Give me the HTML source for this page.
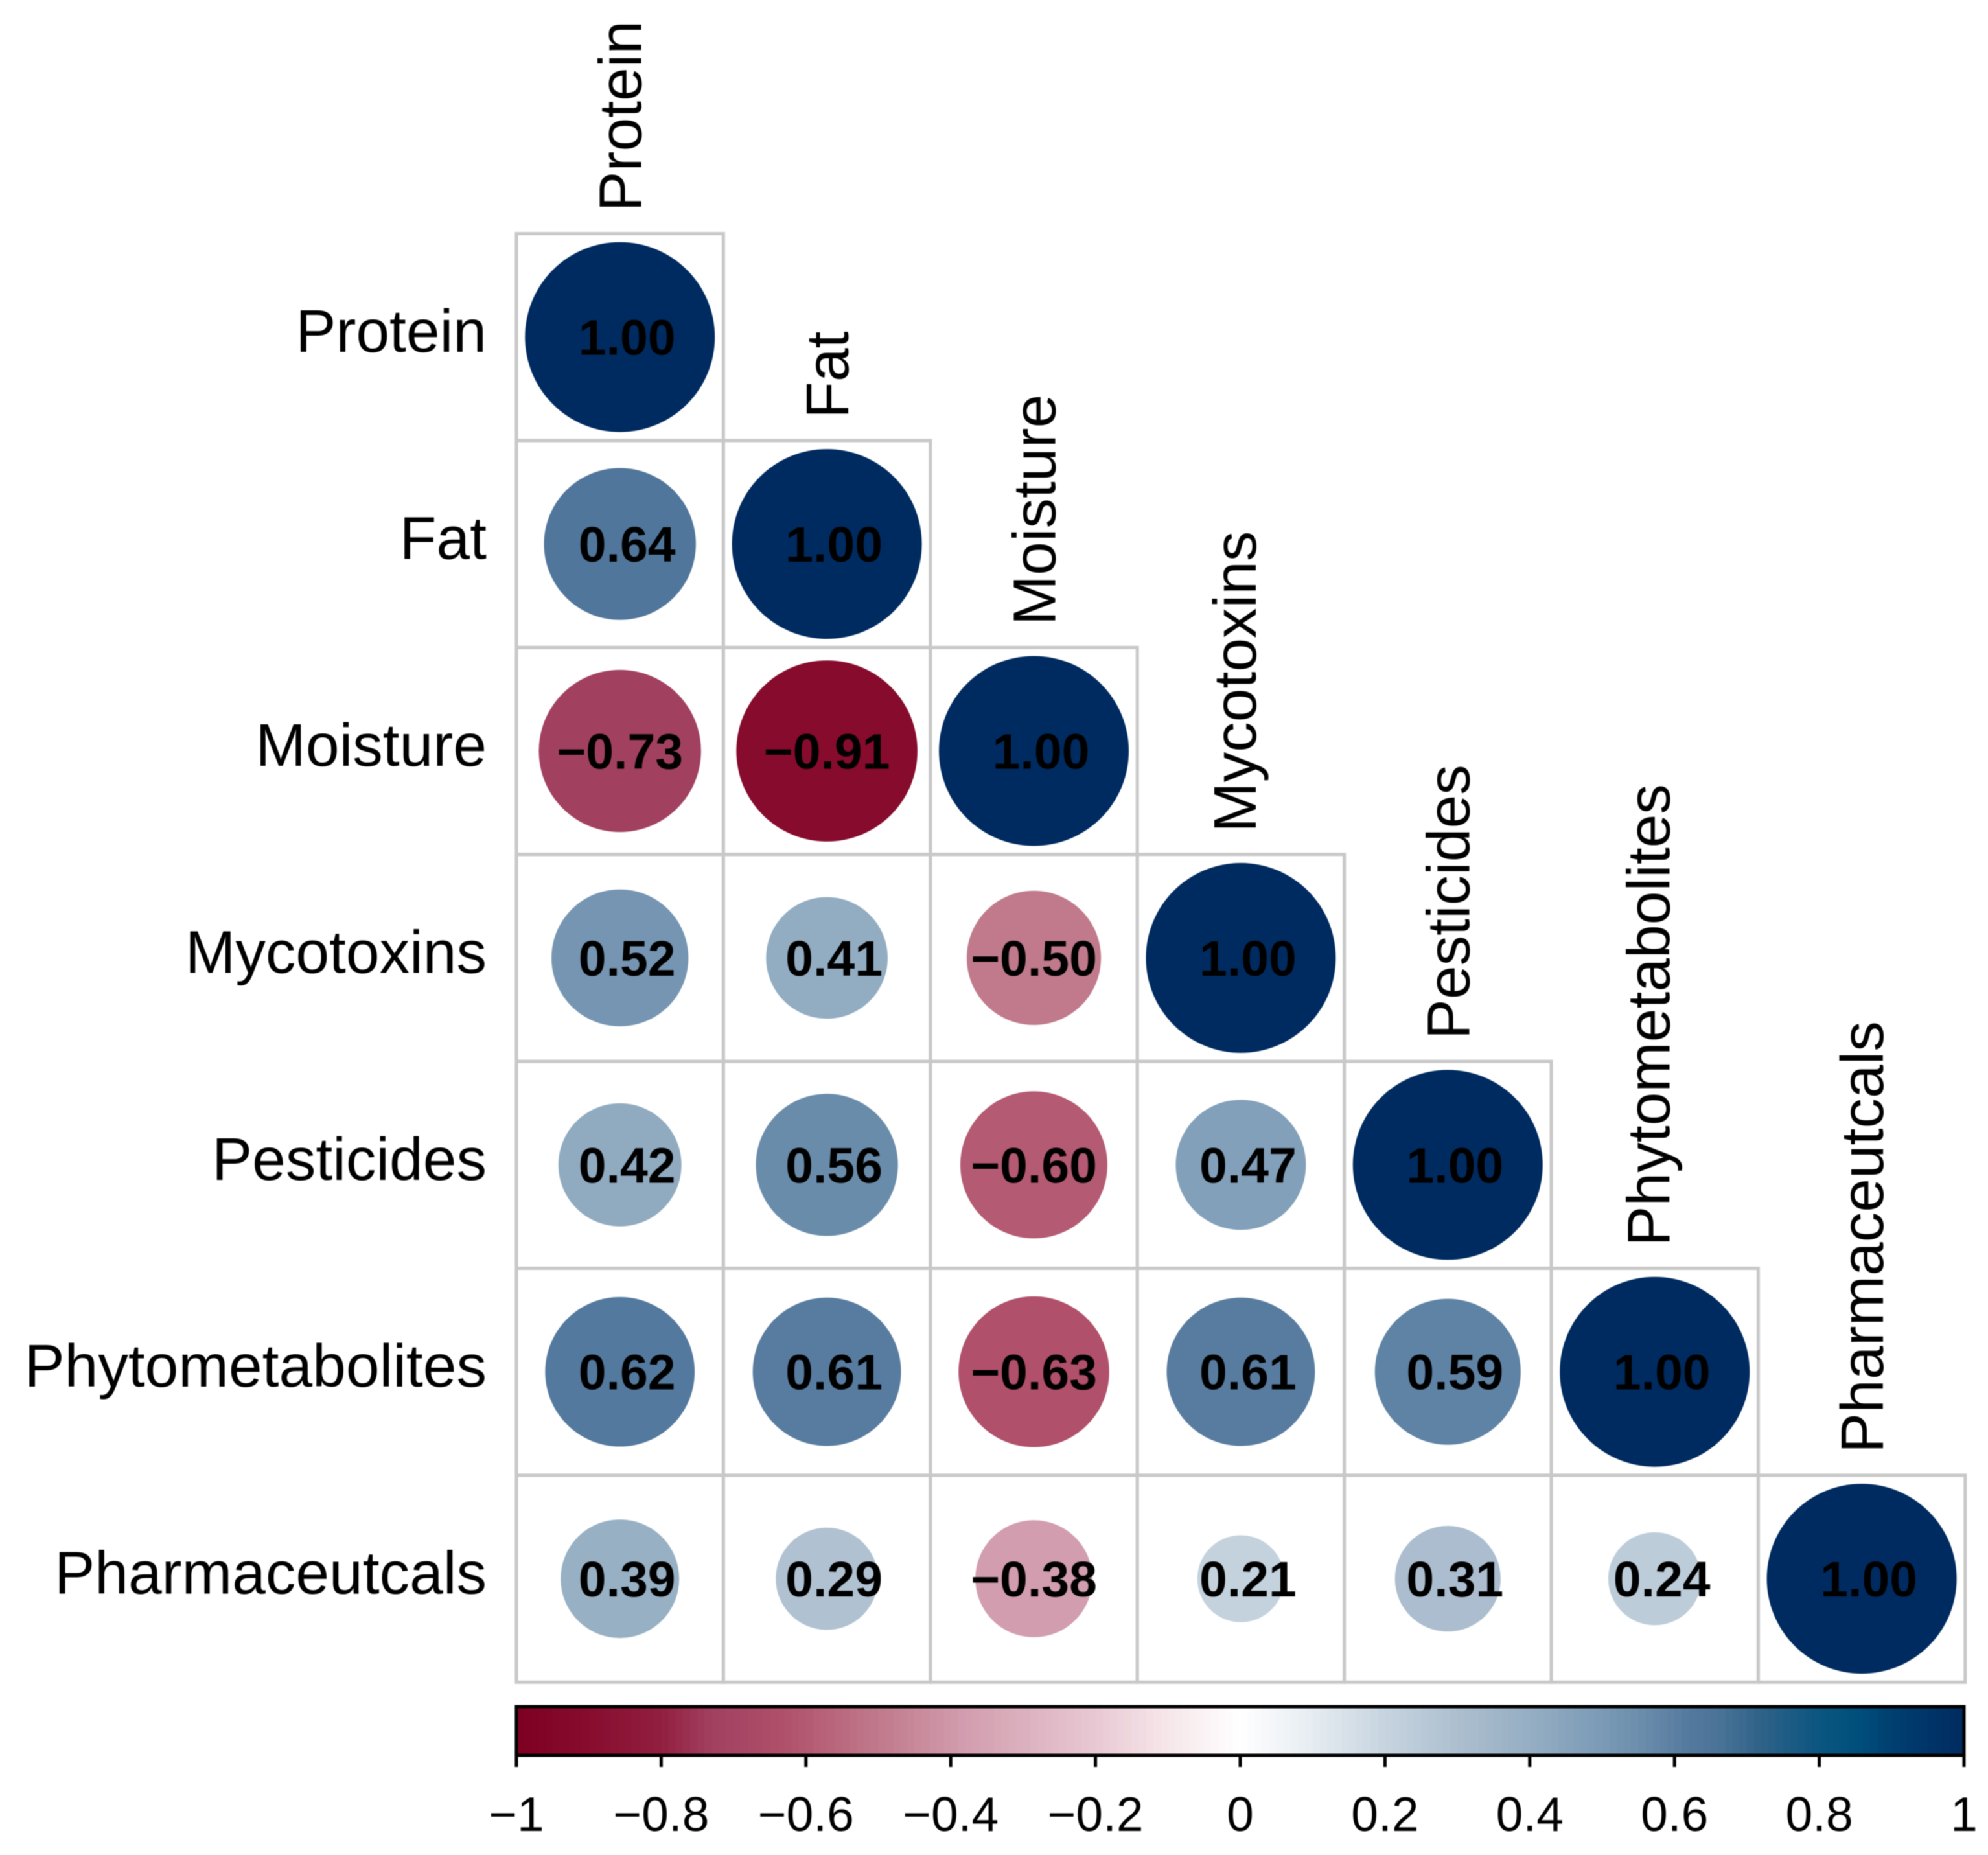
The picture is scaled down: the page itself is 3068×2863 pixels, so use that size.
<!DOCTYPE html>
<html lang="en">
<head>
<meta charset="utf-8">
<title>Correlation matrix</title>
<style>
html,body{margin:0;padding:0;background:#fff;}
svg{display:block;filter:blur(0.7px);}
text{font-family:"Liberation Sans",Arial,sans-serif;fill:#000;}
</style>
</head>
<body>
<svg id="chart" xmlns="http://www.w3.org/2000/svg" width="3068" height="2863" viewBox="0 0 3068 2863"></svg>
<script>
const variables = ["Protein","Fat","Moisture","Mycotoxins","Pesticides","Phytometabolites","Pharmaceutcals"];
const row0 = [1.00];
const row1 = [0.64,1.00];
const row2 = [-0.73,-0.91,1.00];
const row3 = [0.52,0.41,-0.50,1.00];
const row4 = [0.42,0.56,-0.60,0.47,1.00];
const row5 = [0.62,0.61,-0.63,0.61,0.59,1.00];
const row6 = [0.39,0.29,-0.38,0.21,0.31,0.24,1.00];
const rows = [row0,row1,row2,row3,row4,row5,row6];
const colorbarTicks = [-1,-0.8,-0.6,-0.4,-0.2,0,0.2,0.4,0.6,0.8,1];
const paletteValues = [-1,-0.9,-0.8,-0.73,-0.63,-0.5,-0.38,-0.2,-0.1,0,0.1,0.2,0.3,0.4,0.5,0.56,0.62,0.66,0.72,0.8,0.85,0.9,1];
const paletteColors = ["#7d0022","#870c2e","#921f40","#a24060","#b0506b","#c07a8c","#d29dae","#e8c8d3","#f6e6ea","#ffffff","#e6ecf1","#c6d4df","#adbfcf","#95aec3","#7a9ab5","#6a8cab","#54799e","#4b7398","#2f6288","#0a5580","#00507c","#003f71","#002b60"];

const svg = document.getElementById('chart');
const NS = 'http://www.w3.org/2000/svg';
const gridLeft = 797, gridTop = 360.5, cell = 319.4;
const maxRadius = 146.5;
const barLeft = 797, barRight = 3031, barTop = 2634, barBottom = 2709;

function make(tag, attrs, parent, text){
  const el = document.createElementNS(NS, tag);
  for (const k in attrs) el.setAttribute(k, attrs[k]);
  if (text !== undefined) el.textContent = text;
  (parent || svg).appendChild(el);
  return el;
}
function xCol(i){ return gridLeft + cell * (i + 0.5); }
function yRow(i){ return gridTop + cell * (i + 0.5); }
function radius(v){ return maxRadius * Math.sqrt(Math.abs(v)); }
function xBar(v){ return barLeft + (v + 1) / 2 * (barRight - barLeft); }
function hex(c){ return [1,3,5].map(function(i){ return parseInt(c.substr(i,2),16); }); }
function color(v){
  const t = Math.max(-1, Math.min(1, v));
  let i = 0;
  while (i < paletteValues.length - 2 && t > paletteValues[i+1]) i++;
  const f = (t - paletteValues[i]) / (paletteValues[i+1] - paletteValues[i]);
  const a = hex(paletteColors[i]), b = hex(paletteColors[i+1]);
  return 'rgb(' + a.map(function(x,k){ return Math.round(x + (b[k]-x)*f); }).join(',') + ')';
}
function fmt(v){ return (v < 0 ? '\u2212' : '') + Math.abs(v).toFixed(2); }
function slug(s){ return s.toLowerCase(); }

// cell borders
const gridGroup = make('g', {});


rows.forEach(function(r, ri){
  r.forEach(function(v, ci){
    const rect = make('rect', {x: gridLeft + cell*ci, y: gridTop + cell*ri, width: cell, height: cell, fill: 'none', stroke: '#c8c8c8', 'stroke-width': 5}, gridGroup);
    
    
  });
});

// circles and values
rows.forEach(function(r, ri){
  r.forEach(function(v, ci){
    const c = make('circle', {cx: xCol(ci), cy: yRow(ri), r: radius(v), fill: color(v)});
    
    
  });
});
rows.forEach(function(r, ri){
  r.forEach(function(v, ci){
    const t = make('text', {x: xCol(ci) + (v < 0 ? 0 : 11), y: yRow(ri) + 27.5, 'font-size': 77, 'font-weight': 'bold', 'text-anchor': 'middle'}, svg, fmt(v));
    
    
  });
});

// row labels
variables.forEach(function(name, i){
  const t = make('text', {x: 751, y: yRow(i) + 23, 'font-size': 93, 'text-anchor': 'end'}, svg, name);
  
  
});

// column labels: ink-centred on the column, so labels with descenders sit further left
variables.forEach(function(name, i){
  const px = xCol(i) + (/[gjpqy]/.test(name) ? 23 : 33), py = gridTop + cell*i - 34;
  const t = make('text', {x: px, y: py, 'font-size': 93, transform: 'rotate(-90 ' + px + ' ' + py + ')'}, svg, name);
  
  
});

// colorbar
const barGroup = make('g', {});


const steps = 200;
for (let s = 0; s < steps; s++){
  const v0 = -1 + 2*s/steps, v1 = -1 + 2*(s+1)/steps;
  const seg = make('rect', {x: xBar(v0), y: barTop, width: xBar(v1) - xBar(v0) + 1, height: barBottom - barTop, fill: color((v0+v1)/2)}, barGroup);
  
  
}
const frame = make('rect', {x: barLeft, y: barTop, width: barRight - barLeft, height: barBottom - barTop, fill: 'none', stroke: '#000', 'stroke-width': 5}, barGroup);



colorbarTicks.forEach(function(v){
  const x = xBar(v);
  const tick = make('line', {x1: x, x2: x, y1: barBottom, y2: 2727, stroke: '#000', 'stroke-width': 5});
  
  
  const label = (v < 0 ? '\u2212' : '') + String(Math.abs(v));
  const t = make('text', {x: x, y: 2826, 'font-size': 75, 'text-anchor': 'middle'}, svg, label);
  
  
});
</script>
</body>
</html>
